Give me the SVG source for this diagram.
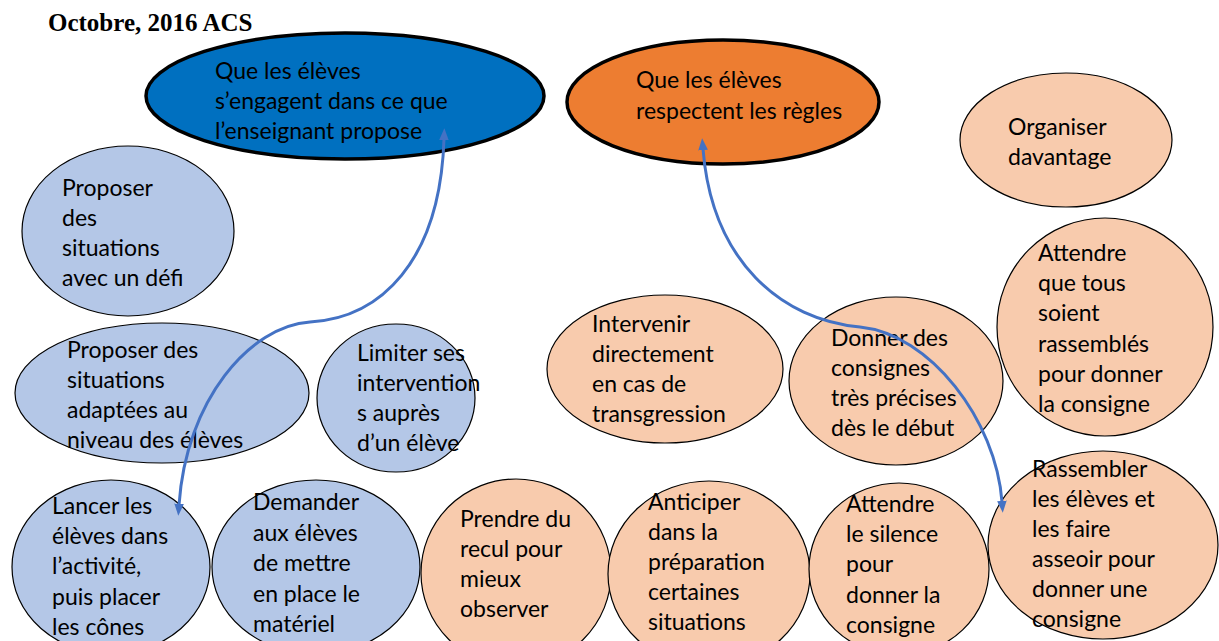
<svg xmlns="http://www.w3.org/2000/svg" width="1219" height="641" viewBox="0 0 1219 641">
<defs>
<style>
.t{font-family:Lato,"Open Sans","Liberation Sans",sans-serif;font-size:23px;fill:#000}
.lb{fill:#B4C7E7;stroke:#000;stroke-width:1.2}
.lo{fill:#F8CBAD;stroke:#000;stroke-width:1.2}
.big{stroke:#000;stroke-width:3.5}
.con{fill:none;stroke:#4472C4;stroke-width:3}
</style>
<marker id="ah" viewBox="0 0 10 8" refX="1" refY="4" markerWidth="12" markerHeight="10" markerUnits="userSpaceOnUse" orient="auto-start-reverse">
<path d="M0,0 L10,4 L0,8 z" fill="#4472C4"/>
</marker>
</defs>
<rect width="1219" height="641" fill="#fff"/>
<text x="48" y="31" font-family="'Liberation Serif',serif" font-weight="bold" font-size="25">Octobre, 2016 ACS</text>

<g id="n-engagent">
<ellipse class="big" cx="345" cy="96" rx="199" ry="63" fill="#0070C0"/>
<text class="t"><tspan x="215" y="79">Que les élèves</tspan><tspan x="215" y="109">s’engagent dans ce que</tspan><tspan x="215" y="139">l’enseignant propose</tspan></text>
</g>
<g id="n-respectent">
<ellipse class="big" cx="723" cy="102" rx="156" ry="62" fill="#ED7D31"/>
<text class="t"><tspan x="636" y="88">Que les élèves</tspan><tspan x="636" y="119">respectent les règles</tspan></text>
</g>
<g id="n-organiser">
<ellipse class="lo" cx="1066" cy="140" rx="106" ry="67"/>
<text class="t"><tspan x="1008" y="135">Organiser</tspan><tspan x="1008" y="165">davantage</tspan></text>
</g>
<g id="n-defi">
<ellipse class="lb" cx="128" cy="231" rx="106" ry="85"/>
<text class="t"><tspan x="62" y="196">Proposer</tspan><tspan x="62" y="226">des</tspan><tspan x="62" y="256">situations</tspan><tspan x="62" y="286">avec un défi</tspan></text>
</g>
<g id="n-adaptees">
<ellipse class="lb" cx="162" cy="393" rx="147" ry="70"/>
<text class="t"><tspan x="67" y="358">Proposer des</tspan><tspan x="67" y="388">situations</tspan><tspan x="67" y="418">adaptées au</tspan><tspan x="67" y="448">niveau des élèves</tspan></text>
</g>
<g id="n-limiter">
<ellipse class="lb" cx="396" cy="398" rx="79" ry="74"/>
<text class="t"><tspan x="357" y="361">Limiter ses</tspan><tspan x="357" y="391">intervention</tspan><tspan x="357" y="421">s auprès</tspan><tspan x="357" y="451">d’un élève</tspan></text>
</g>
<g id="n-intervenir">
<ellipse class="lo" cx="665" cy="369" rx="118" ry="74"/>
<text class="t"><tspan x="592" y="332">Intervenir</tspan><tspan x="592" y="362">directement</tspan><tspan x="592" y="392">en cas de</tspan><tspan x="592" y="422">transgression</tspan></text>
</g>
<g id="n-donner">
<ellipse class="lo" cx="896" cy="381" rx="107" ry="84"/>
<text class="t"><tspan x="831" y="346">Donner des</tspan><tspan x="831" y="376">consignes</tspan><tspan x="831" y="406">très précises</tspan><tspan x="831" y="436">dès le début</tspan></text>
</g>
<g id="n-attendre-tous">
<ellipse class="lo" cx="1105" cy="327" rx="108" ry="109"/>
<text class="t"><tspan x="1038" y="261">Attendre</tspan><tspan x="1038" y="291">que tous</tspan><tspan x="1038" y="321">soient</tspan><tspan x="1038" y="352">rassemblés</tspan><tspan x="1038" y="382">pour donner</tspan><tspan x="1038" y="412">la consigne</tspan></text>
</g>
<g id="n-lancer">
<ellipse class="lb" cx="111" cy="567" rx="99" ry="87"/>
<text class="t"><tspan x="52" y="514">Lancer les</tspan><tspan x="52" y="544">élèves dans</tspan><tspan x="52" y="574">l’activité,</tspan><tspan x="52" y="605">puis placer</tspan><tspan x="52" y="635">les cônes</tspan></text>
</g>
<g id="n-demander">
<ellipse class="lb" cx="316" cy="567" rx="104" ry="87"/>
<text class="t"><tspan x="253" y="510">Demander</tspan><tspan x="253" y="541">aux élèves</tspan><tspan x="253" y="571">de mettre</tspan><tspan x="253" y="602">en place le</tspan><tspan x="253" y="632">matériel</tspan></text>
</g>
<g id="n-prendre">
<ellipse class="lo" cx="516" cy="573" rx="95" ry="94"/>
<text class="t"><tspan x="460" y="527">Prendre du</tspan><tspan x="460" y="557">recul pour</tspan><tspan x="460" y="587">mieux</tspan><tspan x="460" y="617">observer</tspan></text>
</g>
<g id="n-anticiper">
<ellipse class="lo" cx="709" cy="574" rx="101" ry="93"/>
<text class="t"><tspan x="648" y="510">Anticiper</tspan><tspan x="648" y="540">dans la</tspan><tspan x="648" y="570">préparation</tspan><tspan x="648" y="600">certaines</tspan><tspan x="648" y="630">situations</tspan></text>
</g>
<g id="n-silence">
<ellipse class="lo" cx="899" cy="569" rx="90" ry="86"/>
<text class="t"><tspan x="846" y="512">Attendre</tspan><tspan x="846" y="542">le silence</tspan><tspan x="846" y="572">pour</tspan><tspan x="846" y="603">donner la</tspan><tspan x="846" y="633">consigne</tspan></text>
</g>
<g id="n-rassembler">
<ellipse class="lo" cx="1103" cy="545" rx="115" ry="94"/>
<text class="t"><tspan x="1032" y="477">Rassembler</tspan><tspan x="1032" y="507">les élèves et</tspan><tspan x="1032" y="537">les faire</tspan><tspan x="1032" y="567">asseoir pour</tspan><tspan x="1032" y="597">donner une</tspan><tspan x="1032" y="627">consigne</tspan></text>
</g>

<g id="connectors">
<path class="con" d="M444,139 C440,262 380,318 310,322 C250,326 186,400 179,505" marker-start="url(#ah)" marker-end="url(#ah)"/>
<path class="con" d="M703,149 C712,262 782,320 860,327 C930,334 996,420 1002,502" marker-start="url(#ah)" marker-end="url(#ah)"/>
</g>
</svg>
